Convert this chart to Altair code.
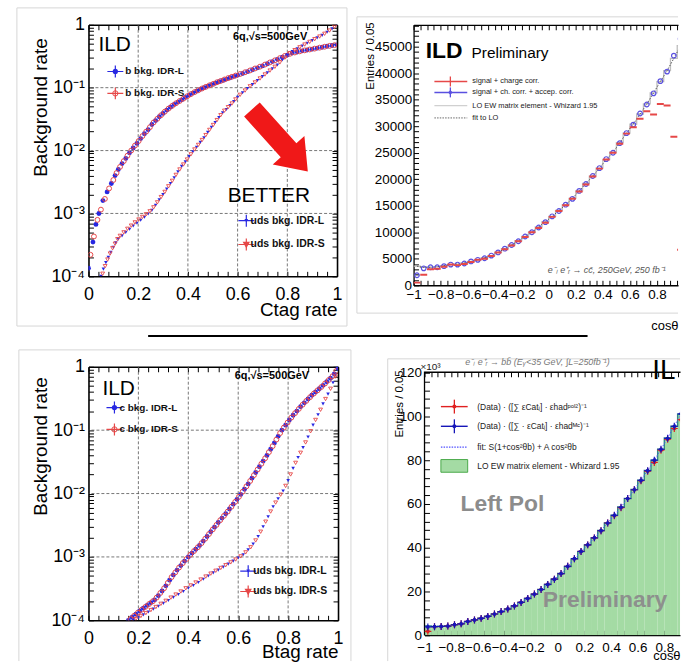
import altair as alt
import pandas as pd

FONT = "Liberation Sans"
BLUE = "#2828e2"
RED = "#e64848"
VIOLET = "#5a50e0"
DBLUE = "#1616b8"
ZWS = "\u200b"

# ================= Panel 1: C-tag efficiency curves =================
CT_B_L = [(0.000, 1.35e-4), (0.018, 3.5e-4), (0.030, 6.7e-4), (0.042, 1.0e-3), (0.058, 1.6e-3), (0.075, 2.2e-3),
          (0.092, 3.0e-3), (0.107, 4.0e-3), (0.120, 5.0e-3), (0.135, 6.2e-3), (0.150, 7.5e-3), (0.165, 9.2e-3),
          (0.180, 1.1e-2), (0.195, 1.3e-2), (0.210, 1.55e-2), (0.225, 1.85e-2), (0.240, 2.15e-2), (0.255, 2.6e-2),
          (0.270, 3.0e-2), (0.285, 3.45e-2), (0.300, 3.9e-2), (0.315, 4.4e-2), (0.330, 4.9e-2), (0.345, 5.4e-2),
          (0.360, 5.9e-2), (0.375, 6.4e-2), (0.390, 7.0e-2), (0.405, 7.6e-2), (0.420, 8.2e-2), (0.435, 8.8e-2),
          (0.450, 9.4e-2), (0.465, 1.0e-1), (0.480, 1.06e-1), (0.495, 1.12e-1), (0.510, 1.18e-1), (0.525, 1.24e-1),
          (0.540, 1.3e-1), (0.555, 1.37e-1), (0.570, 1.44e-1), (0.585, 1.51e-1), (0.600, 1.58e-1), (0.620, 1.68e-1),
          (0.640, 1.8e-1), (0.660, 1.93e-1), (0.680, 2.07e-1), (0.700, 2.22e-1), (0.720, 2.4e-1), (0.740, 2.6e-1),
          (0.760, 2.82e-1), (0.780, 3.05e-1), (0.800, 3.3e-1), (0.820, 3.55e-1), (0.840, 3.7e-1), (0.860, 3.85e-1),
          (0.880, 3.98e-1), (0.900, 4.1e-1), (0.920, 4.25e-1), (0.940, 4.4e-1), (0.960, 4.55e-1), (0.980, 4.68e-1),
          (1.000, 4.8e-1)]
CT_B_S = [(0.008, 2.2e-4), (0.022, 4.3e-4), (0.036, 7.9e-4), (0.050, 1.15e-3), (0.066, 1.7e-3), (0.083, 2.5e-3),
          (0.100, 3.4e-3), (0.113, 4.4e-3), (0.127, 5.5e-3), (0.142, 6.8e-3), (0.157, 8.3e-3), (0.172, 1.0e-2),
          (0.187, 1.2e-2), (0.202, 1.42e-2), (0.217, 1.7e-2), (0.232, 2.0e-2), (0.247, 2.35e-2), (0.262, 2.8e-2),
          (0.277, 3.2e-2), (0.292, 3.65e-2), (0.307, 4.15e-2), (0.322, 4.65e-2), (0.337, 5.15e-2), (0.352, 5.65e-2),
          (0.367, 6.15e-2), (0.382, 6.7e-2), (0.397, 7.3e-2), (0.412, 7.9e-2), (0.427, 8.5e-2), (0.442, 9.1e-2),
          (0.457, 9.7e-2), (0.472, 1.03e-1), (0.487, 1.09e-1), (0.502, 1.15e-1), (0.517, 1.22e-1), (0.532, 1.28e-1),
          (0.547, 1.35e-1), (0.562, 1.42e-1), (0.577, 1.49e-1), (0.592, 1.56e-1), (0.610, 1.65e-1), (0.630, 1.76e-1),
          (0.650, 1.88e-1), (0.670, 2.02e-1), (0.690, 2.16e-1), (0.710, 2.33e-1), (0.730, 2.52e-1), (0.750, 2.72e-1),
          (0.770, 2.95e-1), (0.790, 3.2e-1), (0.810, 3.45e-1), (0.830, 3.63e-1), (0.850, 3.78e-1), (0.870, 3.92e-1),
          (0.890, 4.05e-1), (0.910, 4.18e-1), (0.930, 4.33e-1), (0.950, 4.48e-1), (0.970, 4.62e-1), (0.990, 4.75e-1)]
CT_U_L = [(0.050, 1.0e-4), (0.060, 1.3e-4), (0.070, 1.65e-4), (0.080, 2.0e-4), (0.090, 2.4e-4), (0.100, 2.9e-4),
          (0.110, 3.4e-4), (0.120, 3.9e-4), (0.135, 4.4e-4), (0.150, 5.0e-4), (0.165, 5.6e-4), (0.180, 6.3e-4),
          (0.195, 7.0e-4), (0.210, 7.8e-4), (0.225, 8.7e-4), (0.240, 9.8e-4), (0.255, 1.12e-3), (0.270, 1.35e-3),
          (0.285, 1.65e-3), (0.300, 2.0e-3), (0.315, 2.45e-3), (0.330, 3.0e-3), (0.345, 3.7e-3), (0.360, 4.6e-3),
          (0.375, 5.6e-3), (0.390, 6.6e-3), (0.405, 8.0e-3), (0.420, 9.6e-3), (0.435, 1.13e-2), (0.450, 1.35e-2),
          (0.465, 1.6e-2), (0.480, 1.95e-2), (0.495, 2.35e-2), (0.510, 2.8e-2), (0.525, 3.35e-2), (0.540, 4.0e-2),
          (0.555, 4.5e-2), (0.570, 5.2e-2), (0.585, 6.0e-2), (0.600, 7.0e-2), (0.620, 8.3e-2), (0.640, 9.7e-2),
          (0.660, 1.12e-1), (0.680, 1.3e-1), (0.700, 1.5e-1), (0.720, 1.73e-1), (0.740, 2.0e-1), (0.760, 2.3e-1),
          (0.780, 2.75e-1), (0.800, 3.3e-1), (0.820, 3.75e-1), (0.840, 4.15e-1), (0.860, 4.6e-1), (0.880, 5.1e-1),
          (0.900, 5.6e-1), (0.920, 6.2e-1), (0.940, 6.8e-1), (0.960, 7.6e-1), (0.980, 8.6e-1), (1.000, 1.0)]
CT_U_S = [(0.057, 1.1e-4), (0.067, 1.45e-4), (0.077, 1.85e-4), (0.087, 2.3e-4), (0.097, 2.8e-4), (0.107, 3.3e-4),
          (0.117, 3.9e-4), (0.127, 4.4e-4), (0.142, 5.0e-4), (0.157, 5.7e-4), (0.172, 6.4e-4), (0.187, 7.2e-4),
          (0.202, 8.0e-4), (0.217, 8.8e-4), (0.232, 9.7e-4), (0.247, 1.08e-3), (0.262, 1.25e-3), (0.277, 1.5e-3),
          (0.292, 1.82e-3), (0.307, 2.2e-3), (0.322, 2.7e-3), (0.337, 3.3e-3), (0.352, 4.1e-3), (0.367, 5.0e-3),
          (0.382, 6.0e-3), (0.397, 7.2e-3), (0.412, 8.7e-3), (0.427, 1.04e-2), (0.442, 1.23e-2), (0.457, 1.47e-2),
          (0.472, 1.76e-2), (0.487, 2.13e-2), (0.502, 2.55e-2), (0.517, 3.05e-2), (0.532, 3.65e-2), (0.547, 4.3e-2),
          (0.562, 4.9e-2), (0.577, 5.6e-2), (0.592, 6.5e-2), (0.610, 7.7e-2), (0.630, 9.0e-2), (0.650, 1.05e-1),
          (0.670, 1.21e-1), (0.690, 1.4e-1), (0.710, 1.62e-1), (0.730, 1.87e-1), (0.750, 2.15e-1), (0.770, 2.52e-1),
          (0.790, 3.0e-1), (0.810, 3.52e-1), (0.830, 3.95e-1), (0.850, 4.38e-1), (0.870, 4.85e-1), (0.890, 5.35e-1),
          (0.910, 5.9e-1), (0.930, 6.5e-1), (0.950, 7.2e-1), (0.970, 8.1e-1), (0.990, 9.3e-1)]

# ================= Panel 3: B-tag efficiency curves =================
BT_C_L = [(0.160, 1.0e-4), (0.175, 1.12e-4), (0.190, 1.25e-4), (0.205, 1.4e-4), (0.220, 1.55e-4), (0.235, 1.72e-4),
          (0.250, 1.9e-4), (0.265, 2.1e-4), (0.280, 2.45e-4), (0.295, 2.9e-4), (0.310, 3.5e-4), (0.325, 4.3e-4),
          (0.340, 5.2e-4), (0.355, 6.2e-4), (0.370, 7.3e-4), (0.385, 8.6e-4), (0.400, 1.0e-3), (0.415, 1.15e-3),
          (0.430, 1.32e-3), (0.445, 1.52e-3), (0.460, 1.78e-3), (0.475, 2.1e-3), (0.490, 2.5e-3), (0.505, 2.95e-3),
          (0.520, 3.5e-3), (0.535, 4.1e-3), (0.550, 4.8e-3), (0.565, 5.7e-3), (0.580, 6.8e-3), (0.595, 8.1e-3),
          (0.610, 9.7e-3), (0.625, 1.17e-2), (0.640, 1.42e-2), (0.655, 1.75e-2), (0.670, 2.15e-2), (0.685, 2.65e-2),
          (0.700, 3.25e-2), (0.715, 4.0e-2), (0.730, 5.0e-2), (0.745, 6.3e-2), (0.760, 8.0e-2), (0.775, 1.0e-1),
          (0.790, 1.2e-1), (0.805, 1.45e-1), (0.820, 1.72e-1), (0.835, 2.0e-1), (0.850, 2.35e-1), (0.865, 2.7e-1),
          (0.880, 3.1e-1), (0.895, 3.55e-1), (0.910, 4.0e-1), (0.925, 4.5e-1), (0.940, 5.1e-1), (0.955, 5.8e-1),
          (0.970, 6.6e-1), (0.985, 7.7e-1), (1.000, 9.5e-1)]
BT_C_S = [(0.168, 1.05e-4), (0.183, 1.18e-4), (0.198, 1.32e-4), (0.213, 1.47e-4), (0.228, 1.63e-4), (0.243, 1.81e-4),
          (0.258, 2.0e-4), (0.273, 2.28e-4), (0.288, 2.7e-4), (0.303, 3.2e-4), (0.318, 3.9e-4), (0.333, 4.8e-4),
          (0.348, 5.7e-4), (0.363, 6.8e-4), (0.378, 8.0e-4), (0.393, 9.3e-4), (0.408, 1.08e-3), (0.423, 1.24e-3),
          (0.438, 1.42e-3), (0.453, 1.65e-3), (0.468, 1.94e-3), (0.483, 2.3e-3), (0.498, 2.72e-3), (0.513, 3.2e-3),
          (0.528, 3.8e-3), (0.543, 4.45e-3), (0.558, 5.2e-3), (0.573, 6.2e-3), (0.588, 7.4e-3), (0.603, 8.9e-3),
          (0.618, 1.07e-2), (0.633, 1.3e-2), (0.648, 1.58e-2), (0.663, 1.95e-2), (0.678, 2.4e-2), (0.693, 2.95e-2),
          (0.708, 3.6e-2), (0.723, 4.5e-2), (0.738, 5.6e-2), (0.753, 7.1e-2), (0.768, 9.0e-2), (0.783, 1.1e-1),
          (0.798, 1.32e-1), (0.813, 1.58e-1), (0.828, 1.86e-1), (0.843, 2.17e-1), (0.858, 2.52e-1), (0.873, 2.9e-1),
          (0.888, 3.32e-1), (0.903, 3.78e-1), (0.918, 4.25e-1), (0.933, 4.8e-1), (0.948, 5.45e-1), (0.963, 6.2e-1),
          (0.978, 7.1e-1), (0.993, 8.6e-1)]
BT_U_L = [(0.180, 1.0e-4), (0.200, 1.1e-4), (0.220, 1.22e-4), (0.240, 1.35e-4), (0.260, 1.5e-4), (0.280, 1.67e-4),
          (0.300, 1.85e-4), (0.320, 2.05e-4), (0.340, 2.3e-4), (0.360, 2.55e-4), (0.380, 2.85e-4), (0.400, 3.2e-4),
          (0.420, 3.55e-4), (0.440, 3.95e-4), (0.460, 4.45e-4), (0.480, 5.0e-4), (0.500, 5.6e-4), (0.520, 6.2e-4),
          (0.540, 6.9e-4), (0.560, 7.7e-4), (0.580, 8.6e-4), (0.600, 9.6e-4), (0.620, 1.08e-3), (0.640, 1.3e-3),
          (0.660, 1.6e-3), (0.680, 2.1e-3), (0.700, 3.0e-3), (0.720, 4.3e-3), (0.740, 6.2e-3), (0.760, 8.3e-3),
          (0.780, 1.1e-2), (0.800, 1.6e-2), (0.820, 2.5e-2), (0.840, 3.7e-2), (0.860, 5.3e-2), (0.880, 7.8e-2),
          (0.900, 1.2e-1), (0.920, 1.75e-1), (0.940, 2.6e-1), (0.960, 3.7e-1), (0.980, 5.6e-1), (1.000, 9.0e-1)]
BT_U_S = [(0.190, 1.05e-4), (0.210, 1.17e-4), (0.230, 1.3e-4), (0.250, 1.45e-4), (0.270, 1.62e-4), (0.290, 1.82e-4),
          (0.310, 2.03e-4), (0.330, 2.28e-4), (0.350, 2.55e-4), (0.370, 2.85e-4), (0.390, 3.2e-4), (0.410, 3.55e-4),
          (0.430, 3.95e-4), (0.450, 4.4e-4), (0.470, 4.9e-4), (0.490, 5.45e-4), (0.510, 6.05e-4), (0.530, 6.7e-4),
          (0.550, 7.4e-4), (0.570, 8.2e-4), (0.590, 9.1e-4), (0.610, 1.02e-3), (0.630, 1.18e-3), (0.650, 1.42e-3),
          (0.670, 1.82e-3), (0.690, 2.5e-3), (0.710, 3.6e-3), (0.730, 5.2e-3), (0.750, 7.2e-3), (0.770, 9.6e-3),
          (0.790, 1.32e-2), (0.810, 2.0e-2), (0.830, 3.05e-2), (0.850, 4.4e-2), (0.870, 6.4e-2), (0.890, 9.6e-2),
          (0.910, 1.45e-1), (0.930, 2.1e-1), (0.950, 3.1e-1), (0.970, 4.5e-1), (0.990, 7.0e-1)]

# ================= Panel 2: c cbar angular distribution (bins of 0.05) =================
BIN_LO = [round(-1 + 0.05 * i, 2) for i in range(40)]
CC_ACC = [1900, 3200, 3400, 3400, 3600, 3900, 3900, 4100, 4500, 4800, 5100, 5600, 6200, 6900, 7600, 8300, 9200,
          10000, 10900, 11900, 13000, 14000, 15200, 16300, 17800, 19100, 20600, 22100, 23800, 25000, 26800, 28700,
          30300, 32400, 34100, 36200, 38500, 40300, 43300, 46500]
CC_CHG = [500, 2000, 3000, 3100, 3500, 3900, 3800, 4000, 4400, 4800, 5000, 5500, 6200, 6800, 7500, 8300, 9100,
          10000, 10800, 11800, 12900, 14000, 15100, 16300, 17700, 19000, 20500, 22000, 23700, 25000, 26700, 28600,
          29800, 31400, 32800, 32200, 34200, 33900, 28000, 6700]
CC_LO = [3600, 3400, 3400, 3500, 3700, 3900, 4000, 4200, 4500, 4800, 5200, 5600, 6200, 6900, 7600, 8400, 9200,
         10000, 11000, 12000, 13000, 14100, 15200, 16400, 17800, 19200, 20600, 22100, 23700, 25100, 26900, 28700,
         30400, 32300, 34200, 36300, 38400, 40500, 42800, 45200]

# ================= Panel 4: b bbar angular distribution (x10^3, bins of 0.05) =================
BB_MC = [3.8, 3.9, 4.0, 4.2, 4.8, 5.2, 6.3, 7.0, 7.7, 8.6, 9.7, 10.8, 12.0, 13.4, 15.0, 16.8, 18.8, 20.9, 23.2,
         25.6, 28.2, 31.5, 35.0, 38.3, 41.3, 44.5, 47.8, 51.3, 54.8, 58.5, 62.5, 66.5, 70.8, 75.2, 80.0, 85.0, 90.0,
         95.5, 101.2, 106.0]
BB_POL2 = [1.8, 3.9, 4.0, 4.2, 4.8, 5.2, 6.3, 7.0, 7.7, 8.6, 9.7, 10.8, 12.0, 13.4, 15.0, 16.8, 18.8, 20.9, 23.2,
           25.6, 28.2, 31.5, 35.0, 38.3, 41.3, 44.5, 47.8, 51.3, 54.6, 58.3, 62.5, 66.5, 70.6, 75.0, 79.0, 84.6, 89.6,
           94.5, 98.5, 103.0]
BB_LO = [4.2, 4.0, 4.1, 4.3, 4.8, 5.3, 6.2, 7.0, 7.8, 8.7, 9.7, 10.8, 12.0, 13.4, 15.0, 16.8, 18.8, 20.9, 23.2,
         25.6, 28.2, 31.4, 34.8, 38.2, 41.3, 44.5, 47.9, 51.3, 54.9, 58.6, 62.5, 66.6, 70.9, 75.3, 80.0, 85.0, 90.2,
         95.6, 101.0, 106.5]

# ================= tick positions =================
LOG_TICKS = [m * 10.0 ** e for e in range(-4, 0) for m in range(1, 10)] + [1.0]
X01_TICKS = [round(0.04 * i, 2) for i in range(26)]
XCOS_TICKS = [round(-1 + 0.05 * i, 2) for i in range(41)]
Y2_TICKS = list(range(0, 49001, 1000))
Y4_TICKS = list(range(0, 121, 4))
LOG_GRID = [1e-3, 1e-2, 1e-1]
X_GRID = [0.2, 0.4, 0.6, 0.8]

LOG_LABEL = ("abs(log(datum.value)/LN10 - round(log(datum.value)/LN10)) < 0.001 ? "
             "['10⁻⁴','10⁻³','10⁻²','10⁻¹','1'][round(log(datum.value)/LN10)+4] : ''")
X5_LABEL = "abs(datum.value*5 - round(datum.value*5)) < 0.001 ? format(datum.value, '.1~f') : ''"
TICK_IN = {"expr": "-5"}

CROSS = "M -1 0 L 1 0 M 0 -0.75 L 0 0.75"
CROSS_FULL = "M -1 0 L 1 0 M 0 -1 L 0 1"
HBAR = "M -1 0 L 1 0"
VBAR = "M 0 -1 L 0 1"
ARROW = "M -1 -0.252 L 0.312 -0.252 L 0.312 -0.51 L 1 0 L 0.312 0.51 L 0.312 0.252 L -1 0.252 Z"
ONE = pd.DataFrame({"a": [0]})


def axis(orient, values, label_expr=None, domain=True, dw=1.3, **kw):
    d = dict(orient=orient, values=values, tickSize=TICK_IN, tickColor="black", tickWidth=1,
             domain=domain, grid=False)
    if domain:
        d.update(domainColor="black", domainWidth=dw)
    if label_expr is None:
        d["labels"] = False
    else:
        d.update(labelExpr=label_expr, labelOverlap=False, labelFlush=False, labelFont=FONT,
                 labelColor="black")
    if "title" in kw:
        d.update(titleFont=FONT, titleColor="black", titleFontWeight="normal",
                 titleBaseline="alphabetic", titleAnchor="end", titleAlign="right")
    else:
        d["title"] = None
    d.update(kw)
    return alt.Axis(**d)


def frame(xs, ys, corner, xa, ya, xa2, ya2):
    c = pd.DataFrame(corner, columns=["x", "y"])
    a = alt.Chart(c).mark_point(opacity=0).encode(
        x=alt.X("x:Q", scale=xs, axis=xa), y=alt.Y("y:Q", scale=ys, axis=ya))
    b = alt.Chart(c).mark_point(opacity=0).encode(
        x=alt.X("x:Q", scale=xs, axis=xa2), y=alt.Y("y:Q", scale=ys, axis=ya2))
    return [a, b]


def pts(data, xs, ys, **mark):
    return alt.Chart(pd.DataFrame(data, columns=["x", "y"])).mark_point(opacity=1, **mark).encode(
        x=alt.X("x:Q", scale=xs, axis=None), y=alt.Y("y:Q", scale=ys, axis=None))


def texts(rows, xs, ys, **mark):
    return alt.Chart(pd.DataFrame(rows, columns=["x", "y", "t"])).mark_text(font=FONT, **mark).encode(
        x=alt.X("x:Q", scale=xs, axis=None), y=alt.Y("y:Q", scale=ys, axis=None), text="t:N")


def hline(rows, xs, ys, **mark):
    return alt.Chart(pd.DataFrame(rows, columns=["x", "x2", "y"])).mark_rule(**mark).encode(
        x=alt.X("x:Q", scale=xs, axis=None), x2="x2:Q", y=alt.Y("y:Q", scale=ys, axis=None))


def vgrid(vals, xs):
    return alt.Chart(pd.DataFrame({"x": vals})).mark_rule(color="#555", strokeDash=[3, 2], strokeWidth=0.8).encode(
        x=alt.X("x:Q", scale=xs, axis=None))


def hgrid(vals, ys):
    return alt.Chart(pd.DataFrame({"y": vals})).mark_rule(color="#555", strokeDash=[3, 2], strokeWidth=0.8).encode(
        y=alt.Y("y:Q", scale=ys, axis=None))


def deco_lines(segs, color="#d6d6d6", width=1):
    # light page-frame decoration around each embedded picture (pixel offsets of the panel)
    return [alt.Chart(ONE).mark_rule(color=color, strokeWidth=width).encode(
        x=alt.value(a), y=alt.value(b), x2=alt.value(c), y2=alt.value(d)) for a, b, c, d in segs]


XS01 = alt.Scale(domain=[0, 1], nice=False, zero=False)
YSLOG = alt.Scale(type="log", domain=[1e-4, 1], nice=False)


def roc_panel(curve_bl, curve_bs, curve_ul, curve_us, flav, xtitle, leg, ann, w, h, title_y, extra):
    xa = axis("bottom", X01_TICKS, X5_LABEL, dw=1.6, labelFontSize=18, labelPadding=14,
              title=xtitle, titleFontSize=19, titleX=w, titleY=title_y[1])
    ya = axis("left", LOG_TICKS, LOG_LABEL, dw=1.6, labelFontSize=18, labelPadding=9,
              title="Background rate", titleFontSize=19, titleX=-42, titleY=title_y[0])
    xa2 = axis("top", X01_TICKS, dw=1.6)
    ya2 = axis("right", LOG_TICKS, dw=1.6)
    layers = list(extra[0])
    layers += frame(XS01, YSLOG, [(0, 1e-4), (1, 1)], xa, ya, xa2, ya2)
    layers += [vgrid(X_GRID, XS01), hgrid(LOG_GRID, YSLOG)]
    layers += [
        pts(curve_bl, XS01, YSLOG, shape="circle", filled=True, color=BLUE, size=24, clip=True),
        pts(curve_bs, XS01, YSLOG, shape="circle", filled=False, color=RED, size=24, strokeWidth=1, clip=True),
        pts(curve_ul, XS01, YSLOG, shape="triangle-down", filled=True, color=BLUE, size=13, clip=True),
        pts(curve_us, XS01, YSLOG, shape="triangle-down", filled=False, color=RED, size=15, strokeWidth=0.9,
            clip=True),
    ]
    layers += list(extra[1])
    (bx, bt, by1, by2), (ux, ut, uy1, uy2) = leg
    layers += [
        pts([(bx, by1)], XS01, YSLOG, shape=CROSS, filled=False, color=BLUE, size=256, strokeWidth=1.2),
        pts([(bx, by1)], XS01, YSLOG, shape="circle", filled=True, color=BLUE, size=28),
        pts([(bx, by2)], XS01, YSLOG, shape=CROSS, filled=False, color=RED, size=256, strokeWidth=1.2),
        pts([(bx, by2)], XS01, YSLOG, shape="circle", filled=False, color=RED, size=28, strokeWidth=1),
        pts([(ux, uy1)], XS01, YSLOG, shape=CROSS, filled=False, color=BLUE, size=256, strokeWidth=1.2),
        pts([(ux, uy1)], XS01, YSLOG, shape="triangle-down", filled=True, color=BLUE, size=14),
        pts([(ux, uy2)], XS01, YSLOG, shape=CROSS, filled=False, color=RED, size=256, strokeWidth=1.2),
        pts([(ux, uy2)], XS01, YSLOG, shape="triangle-down", filled=False, color=RED, size=16),
        texts([(bt, by1, f"{flav} bkg. IDR-L"), (bt, by2, f"{flav} bkg. IDR-S")], XS01, YSLOG,
              align="left", baseline="middle", fontSize=10, fontWeight="bold", color="#111"),
        texts([(ut, uy1, "uds bkg. IDR-L"), (ut, uy2, "uds bkg. IDR-S")], XS01, YSLOG,
              align="left", baseline="middle", fontSize=10.5, fontWeight="bold", color="#111"),
    ]
    (ix, iy), (qx, qy) = ann
    layers += [
        texts([(ix, iy, "ILD")], XS01, YSLOG, align="left", baseline="alphabetic", fontSize=21, color="black"),
        texts([(qx, qy, "6q,√s=500GeV")], XS01, YSLOG, align="right", baseline="alphabetic", fontSize=11,
              fontWeight="bold", color="black"),
    ]
    return alt.layer(*layers).resolve_axis(x="independent", y="independent").properties(width=w, height=h)


# ---------- Panel 1 ----------
arrow = alt.Chart(pd.DataFrame({"x": [0.77], "y": [0.01445]})).mark_point(
    shape=ARROW, size=7056, angle=48, filled=True, color="#f01818", opacity=1, strokeWidth=0).encode(
    x=alt.X("x:Q", scale=XS01, axis=None), y=alt.Y("y:Q", scale=YSLOG, axis=None))
better = texts([(0.56, 1.53e-3, "BETTER")], XS01, YSLOG, align="left", baseline="alphabetic", fontSize=21,
               color="black")
p1_deco = deco_lines([(-72, -17, 260, -17), (-72, 303, 260, 303), (-72, -17, -72, 303), (260, -17, 260, 303)])
sep = deco_lines([(60, 313, 502, 313)], color="black", width=2)

p1 = roc_panel(CT_B_L, CT_B_S, CT_U_L, CT_U_S, "b", "Ctag rate",
               ((0.108, 0.148, 0.181, 0.0811), (0.635, 0.652, 7.67e-4, 3.21e-4)),
               ((0.04, 0.388), (0.88, 0.58)), 250, 253, (13, 39),
               (p1_deco + sep, [arrow, better]))

# ---------- Panel 3 ----------
p3_deco = deco_lines([(-70, -17, 264, -17), (-70, -17, -70, 296), (264, -17, 264, 296)])
p3 = roc_panel(BT_C_L, BT_C_S, BT_U_L, BT_U_S, "c", "Btag rate",
               ((0.104, 0.124, 0.2276, 0.1028), (0.64, 0.66, 5.97e-4, 2.85e-4)),
               ((0.056, 0.363), (0.884, 0.648)), 251, 255, (10, 37),
               (p3_deco, []))

# ---------- Panel 2 ----------
W2, H2 = 266, 262
X2_END = -1 + W2 / 136
XS2 = alt.Scale(domain=[-1, X2_END], nice=False, zero=False)
YS2 = alt.Scale(domain=[0, 49125], nice=False, zero=False)
X2_TICKS = [v for v in XCOS_TICKS if v <= X2_END]
cc_cent = [round(b + 0.025, 3) for b in BIN_LO]
cc_step = pd.DataFrame({"x": BIN_LO + [1.0], "y": CC_LO + [CC_LO[-1]]})

p2_layers = deco_lines([(-57, -8, W2, -8), (-57, 290, W2, 290), (-57, -8, -57, 290)])
p2_layers += frame(XS2, YS2, [(-1, 0), (X2_END, 49125)],
                   axis("bottom", X2_TICKS, X5_LABEL, labelFontSize=13.5, labelPadding=7,
                        title="cosθ", titleFontSize=13, titleX=W2, titleY=44),
                   axis("left", Y2_TICKS, "datum.value % 5000 == 0 ? format(datum.value, 'd') : ''",
                        labelFontSize=13.5, labelPadding=7, title="Entries / 0.05", titleFontSize=11.5,
                        titleX=-40, titleY=-3),
                   axis("top", X2_TICKS), None)
p2_layers += [
    alt.Chart(cc_step).mark_line(interpolate="step-after", color="#bdbdbd", strokeWidth=1.3, clip=True).encode(
        x=alt.X("x:Q", scale=XS2, axis=None), y=alt.Y("y:Q", scale=YS2, axis=None)),
    alt.Chart(pd.DataFrame({"x": cc_cent, "y": CC_LO})).mark_line(
        interpolate="monotone", color="#444", strokeDash=[1.5, 1.5], strokeWidth=0.9, clip=True).encode(
        x=alt.X("x:Q", scale=XS2, axis=None), y=alt.Y("y:Q", scale=YS2, axis=None)),
    pts(list(zip(cc_cent, CC_ACC)), XS2, YS2, shape="circle", filled=False, color=VIOLET, size=22,
        strokeWidth=1.2, clip=True),
    pts(list(zip(cc_cent, CC_CHG)), XS2, YS2, shape=HBAR, filled=False, color=RED, size=49, strokeWidth=2,
        clip=True),
    texts([(-0.91, 42940, "ILD")], XS2, YS2, align="left", baseline="alphabetic", fontSize=23,
          fontWeight="bold", color="black"),
    texts([(-0.571, 42940, "Preliminary")], XS2, YS2, align="left", baseline="alphabetic", fontSize=15.5,
          color="black"),
    hline([(-0.846, -0.603, 38440)], XS2, YS2, color=RED, strokeWidth=1.5),
    pts([(-0.728, 38440)], XS2, YS2, shape=VBAR, filled=False, color=RED, size=100, strokeWidth=1.3),
    hline([(-0.846, -0.603, 36375)], XS2, YS2, color=VIOLET, strokeWidth=1.5),
    pts([(-0.728, 36375)], XS2, YS2, shape=VBAR, filled=False, color=VIOLET, size=100, strokeWidth=1.3),
    pts([(-0.728, 36375)], XS2, YS2, shape="diamond", filled=True, color=VIOLET, size=22),
    hline([(-0.846, -0.603, 33880)], XS2, YS2, color="#d0d0d0", strokeWidth=1.3),
    hline([(-0.846, -0.603, 31560)], XS2, YS2, color="#666", strokeWidth=1, strokeDash=[1.5, 1.2]),
    texts([(-0.566, 38440, "signal  + charge corr."), (-0.566, 36375, "signal + ch. corr. + accep. corr."),
           (-0.566, 33880, "LO EW matrix element - Whizard 1.95"), (-0.566, 31560, "fit to LO")],
          XS2, YS2, align="left", baseline="middle", fontSize=7.5, color="#222"),
    texts([(-0.007, 2250, "e⁻ₗ e⁺ᵣ → cc̄, 250GeV, 250 fb⁻¹")], XS2, YS2, align="left", baseline="alphabetic",
          fontSize=9, fontStyle="italic", color="#555", limit=130, ellipsis=ZWS),
]
p2 = alt.layer(*p2_layers).resolve_axis(x="independent", y="independent").properties(width=W2, height=H2)

# ---------- Panel 4 ----------
Y4_TOP = 122.7
W4, H4 = 257, 270
X4_END = -1 + W4 / 134
XS4 = alt.Scale(domain=[-1, X4_END], nice=False, zero=False)
YS4 = alt.Scale(domain=[0, Y4_TOP], nice=False, zero=False)
X4_TICKS = [v for v in XCOS_TICKS if v <= X4_END]
bb_cent = [round(b + 0.025, 3) for b in BIN_LO]
bb_bars = pd.DataFrame({"x": BIN_LO, "x2": [round(b + 0.05, 2) for b in BIN_LO], "y": BB_LO, "z": [0] * 40})
bb_step = pd.DataFrame({"x": BIN_LO + [1.0], "y": BB_LO + [BB_LO[-1]]})

p4_layers = deco_lines([(-37, -8, W4, -8), (-37, -8, -37, 296)])
p4_layers += frame(XS4, YS4, [(-1, 0), (X4_END, Y4_TOP)],
                   axis("bottom", X4_TICKS, X5_LABEL, labelFontSize=13.5, labelPadding=10,
                        title="cosθ", titleFontSize=13, titleX=W4, titleY=24),
                   axis("left", Y4_TICKS, "datum.value % 20 == 0 ? format(datum.value, 'd') : ''",
                        domain=False, labelFontSize=13.5, labelPadding=8, title="Entries / 0.05",
                        titleFontSize=11.5, titleX=-22, titleY=3),
                   axis("top", X4_TICKS, offset=-5), None)
p4_layers += [
    alt.Chart(bb_bars).mark_rect(color="#a4dba4", clip=True).encode(
        x=alt.X("x:Q", scale=XS4, axis=None), x2="x2:Q", y=alt.Y("y:Q", scale=YS4, axis=None), y2="z:Q"),
    alt.Chart(bb_step).mark_line(interpolate="step-after", color="#2f8a86", strokeWidth=1.4, clip=True).encode(
        x=alt.X("x:Q", scale=XS4, axis=None), y=alt.Y("y:Q", scale=YS4, axis=None)),
    alt.Chart(pd.DataFrame({"x": bb_cent, "y": BB_LO})).mark_line(
        interpolate="monotone", color="#5050ff", strokeDash=[1.5, 1.5], strokeWidth=1, clip=True).encode(
        x=alt.X("x:Q", scale=XS4, axis=None), y=alt.Y("y:Q", scale=YS4, axis=None)),
    alt.Chart(pd.DataFrame({"x": [-1], "y": [0], "y2": [120.5]})).mark_rule(color="black", strokeWidth=1.3).encode(
        x=alt.X("x:Q", scale=XS4, axis=None), y=alt.Y("y:Q", scale=YS4, axis=None), y2="y2:Q"),
    texts([(-0.73, 57, "Left Pol")], XS4, YS4, align="left", baseline="alphabetic", fontSize=23,
          fontWeight="bold", color="#8c8c8c"),
    texts([(-0.112, 12.7, "Preliminary")], XS4, YS4, align="left", baseline="alphabetic", fontSize=23,
          fontWeight="bold", color="#8c8c8c", opacity=0.95),
    pts(list(zip(bb_cent, BB_POL2)), XS4, YS4, shape=CROSS_FULL, filled=False, color="#e02020", size=49,
        strokeWidth=1.2, clip=True),
    pts(list(zip(bb_cent, BB_POL2)), XS4, YS4, shape="circle", filled=True, color="#e02020", size=14, clip=True),
    pts(list(zip(bb_cent, BB_MC)), XS4, YS4, shape=CROSS_FULL, filled=False, color=DBLUE, size=49,
        strokeWidth=1.2, clip=True),
    pts(list(zip(bb_cent, BB_MC)), XS4, YS4, shape="circle", filled=True, color=DBLUE, size=14, clip=True),
    texts([(0.709, 117.3, "ILD")], XS4, YS4, align="left", baseline="alphabetic", fontSize=28, color="black",
          limit=28, ellipsis=ZWS),
    texts([(-1.03, 121.4, "×10³")], XS4, YS4, align="left", baseline="alphabetic", fontSize=10, color="#222"),
    texts([(-0.694, 123.6, "e⁻ₗ e⁺ᵣ → bb̄ (Eᵧ<35 GeV, ∫L=250fb⁻¹)")], XS4, YS4, align="left",
          baseline="alphabetic", fontSize=9, fontStyle="italic", color="#777"),
    hline([(-0.877, -0.676, 104.5)], XS4, YS4, color="#e02020", strokeWidth=1.4),
    pts([(-0.776, 104.5)], XS4, YS4, shape=VBAR, filled=False, color="#e02020", size=196, strokeWidth=1.3),
    pts([(-0.776, 104.5)], XS4, YS4, shape="circle", filled=True, color="#e02020", size=16),
    hline([(-0.877, -0.676, 95.5)], XS4, YS4, color=DBLUE, strokeWidth=1.4),
    pts([(-0.776, 95.5)], XS4, YS4, shape=VBAR, filled=False, color=DBLUE, size=196, strokeWidth=1.3),
    pts([(-0.776, 95.5)], XS4, YS4, shape="circle", filled=True, color=DBLUE, size=16),
    hline([(-0.877, -0.676, 86.0)], XS4, YS4, color="#5050ff", strokeWidth=1.2, strokeDash=[1.5, 1.2]),
    alt.Chart(pd.DataFrame({"x": [-0.877], "x2": [-0.676], "y": [74.5], "y2": [80.3]})).mark_rect(
        color="#a4dba4", stroke="#4aa84a", strokeWidth=1).encode(
        x=alt.X("x:Q", scale=XS4, axis=None), x2="x2:Q", y=alt.Y("y:Q", scale=YS4, axis=None), y2="y2:Q"),
    texts([(-0.604, 104.5, "(Data) · ([∑ εCatᵢ] · εhadᵖᵒˡ²)⁻¹"), (-0.604, 95.5, "(Data) · ([∑ · εCatᵢ] · εhadᴹᶜ)⁻¹"),
           (-0.604, 86.0, "fit: S(1+cos²θb) + A cos²θb"), (-0.604, 77.4, "LO EW matrix element - Whizard 1.95")],
          XS4, YS4, align="left", baseline="middle", fontSize=8.5, color="#222"),
]
p4 = alt.layer(*p4_layers).resolve_axis(x="independent", y="independent").properties(width=W4, height=H4)

top = alt.hconcat(p1, p2, spacing=77, bounds="flush")
bottom = alt.hconcat(p3, p4, spacing=87, bounds="flush")
chart = alt.vconcat(top, bottom, spacing=12).properties(
    padding={"left": 16, "top": 5, "right": 0, "bottom": 0}, background="white"
).configure_view(strokeOpacity=0)

chart.save("out.html", embed_options={"renderer": "svg", "actions": False})
